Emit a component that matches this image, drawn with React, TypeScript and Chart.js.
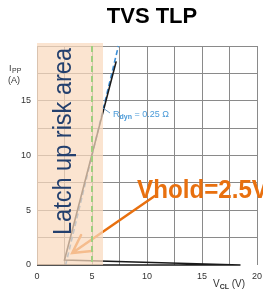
import React, { useEffect, useRef } from 'react';
import { Chart, registerables } from 'chart.js';

Chart.register(...registerables);

// ---- data ----
const titleText = 'TVS TLP';
const tlpX = [0, 18.5, 2.5, 7.2];
const tlpY = [0, 0, 0.45, 18.6];
const rdynX = [2.6, 7.4];
const rdynY = [0, 20];
const latchRange = [0, 6];
const vholdLineX = 5;
const shownXTicks = [0, 5, 10, 15, 20];
const shownYTicks = [0, 5, 10, 15];
const latchText = 'Latch up risk area';
const vholdText = 'Vhold=2.5V';
const rdynText = ' = 0.25 Ω';
const arrowFrom = [10.7, 6.3];
const arrowTo = [3.2, 1.1];

const FONT = 'Arial, "Liberation Sans", sans-serif';

const overlayPlugin = {
  id: 'overlay',
  afterDatasetsDraw(chart: any) {
    const { ctx, chartArea } = chart;
    const xs = chart.scales.x;
    const ys = chart.scales.y;
    ctx.save();

    // arrow (drawn under shading)
    const ax1 = xs.getPixelForValue(arrowFrom[0]);
    const ay1 = ys.getPixelForValue(arrowFrom[1]);
    const ax2 = xs.getPixelForValue(arrowTo[0]);
    const ay2 = ys.getPixelForValue(arrowTo[1]);
    ctx.strokeStyle = '#e8700f';
    ctx.lineWidth = 2.5;
    ctx.lineCap = 'round';
    ctx.beginPath();
    ctx.moveTo(ax1, ay1);
    ctx.lineTo(ax2, ay2);
    const ang = Math.atan2(ay1 - ay2, ax1 - ax2);
    const L = 20;
    const spread = (29 * Math.PI) / 180;
    ctx.moveTo(ax2 + L * Math.cos(ang - spread), ay2 + L * Math.sin(ang - spread));
    ctx.lineTo(ax2, ay2);
    ctx.lineTo(ax2 + L * Math.cos(ang + spread), ay2 + L * Math.sin(ang + spread));
    ctx.stroke();

    // shading
    const sx1 = xs.getPixelForValue(latchRange[0]);
    const sx2 = xs.getPixelForValue(latchRange[1]);
    const sy2 = ys.getPixelForValue(0);
    ctx.fillStyle = 'rgba(250, 218, 190, 0.72)';
    ctx.fillRect(sx1, chartArea.top - 3, sx2 - sx1, sy2 - chartArea.top + 3);

    // green dashed line
    const gx = xs.getPixelForValue(vholdLineX);
    ctx.strokeStyle = '#9fcf7f';
    ctx.lineWidth = 2;
    ctx.lineCap = 'butt';
    ctx.setLineDash([6, 4]);
    ctx.beginPath();
    ctx.moveTo(gx, chartArea.top);
    ctx.lineTo(gx, sy2 - 2);
    ctx.stroke();
    ctx.setLineDash([]);

    // latch text
    ctx.save();
    ctx.translate(71, 141.5);
    ctx.rotate(-Math.PI / 2);
    ctx.fillStyle = '#24406e';
    ctx.font = `26px ${FONT}`;
    ctx.textAlign = 'center';
    ctx.textBaseline = 'alphabetic';
    ctx.fillText(latchText, 0, 0, 187);
    ctx.restore();

    // Vhold text
    ctx.fillStyle = '#e8700f';
    ctx.font = `bold 25px ${FONT}`;
    ctx.textAlign = 'left';
    ctx.textBaseline = 'alphabetic';
    ctx.fillText(vholdText, 137, 198, 131);

    // Rdyn label
    ctx.strokeStyle = '#6a9cc8';
    ctx.lineWidth = 1;
    ctx.beginPath();
    ctx.moveTo(103, 108);
    ctx.lineTo(110, 113);
    ctx.stroke();
    ctx.fillStyle = '#4a9ad8';
    ctx.font = `9px ${FONT}`;
    let tx = 113;
    ctx.fillText('R', tx, 117);
    tx += ctx.measureText('R').width;
    ctx.font = `bold 7px ${FONT}`;
    ctx.fillText('dyn', tx, 119);
    tx += ctx.measureText('dyn').width;
    ctx.font = `9px ${FONT}`;
    ctx.fillText(rdynText, tx, 117);

    // axis labels
    ctx.fillStyle = '#333';
    ctx.font = `9px ${FONT}`;
    ctx.fillText('I', 9, 71);
    ctx.font = `7px ${FONT}`;
    ctx.fillText('PP', 12, 73);
    ctx.font = `9px ${FONT}`;
    ctx.fillText('(A)', 8, 83);

    ctx.font = `10px ${FONT}`;
    let vx = 213;
    ctx.fillText('V', vx, 287);
    vx += ctx.measureText('V').width;
    ctx.font = `bold 7px ${FONT}`;
    ctx.fillText('CL', vx, 289);
    vx += ctx.measureText('CL').width;
    ctx.font = `10px ${FONT}`;
    ctx.fillText(' (V)', vx, 287);

    // title
    ctx.fillStyle = '#000';
    ctx.font = `bold 22px ${FONT}`;
    ctx.textAlign = 'center';
    ctx.fillText(titleText, 152, 23);

    ctx.restore();
  },
};

export default function App() {
  const ref = useRef<HTMLCanvasElement>(null);
  useEffect(() => {
    if (!ref.current) return;
    const chart = new Chart(ref.current, {
      type: 'line',
      data: {
        datasets: [
          {
            data: tlpX.map((x, i) => ({ x, y: tlpY[i] })),
            borderColor: '#1a1a1a',
            borderWidth: 1.6,
            pointRadius: 0,
            tension: 0,
            clip: 4,
          },
          {
            data: rdynX.map((x, i) => ({ x, y: rdynY[i] })),
            borderColor: '#3d8fd6',
            borderWidth: 1.6,
            borderDash: [5, 3],
            pointRadius: 0,
            tension: 0,
            clip: 4,
          },
        ],
      },
      options: {
        responsive: false,
        animation: false,
        layout: { padding: { top: 46, right: 6, left: 0, bottom: 0 } },
        plugins: { legend: { display: false }, tooltip: { enabled: false }, title: { display: false } },
        scales: {
          x: {
            type: 'linear',
            min: 0,
            max: 20,
            afterFit: (s: any) => {
              s.height = 31;
              s.paddingLeft = 0;
              s.paddingRight = 0;
            },
            border: { display: false },
            grid: { color: '#8a8a8a', lineWidth: 1, drawTicks: false },
            ticks: {
              stepSize: 2.5,
              padding: 6,
              maxRotation: 0,
              autoSkip: false,
              color: '#333',
              font: { family: FONT, size: 9 },
              callback: (v: any) => (shownXTicks.includes(Number(v)) ? String(v) : ''),
            },
          },
          y: {
            type: 'linear',
            min: 0,
            max: 20,
            afterFit: (s: any) => {
              s.width = 37;
              s.paddingTop = 0;
              s.paddingBottom = 0;
            },
            border: { display: false },
            grid: {
              color: (c: any) => (c.tick && c.tick.value === 0 ? 'rgba(0,0,0,0)' : '#8a8a8a'),
              lineWidth: 1,
              drawTicks: false,
            },
            ticks: {
              stepSize: 2.5,
              padding: 6,
              autoSkip: false,
              color: '#333',
              font: { family: FONT, size: 9 },
              callback: (v: any) => (shownYTicks.includes(Number(v)) ? String(v) : ''),
            },
          },
        },
      },
      plugins: [overlayPlugin],
    });
    return () => chart.destroy();
  }, []);
  return (
    <div style={{ position: 'fixed', left: 0, top: 0, width: 263, height: 296, background: '#fff' }}>
      <canvas ref={ref} width={263} height={296} style={{ width: 263, height: 296 }} />
    </div>
  );
}
